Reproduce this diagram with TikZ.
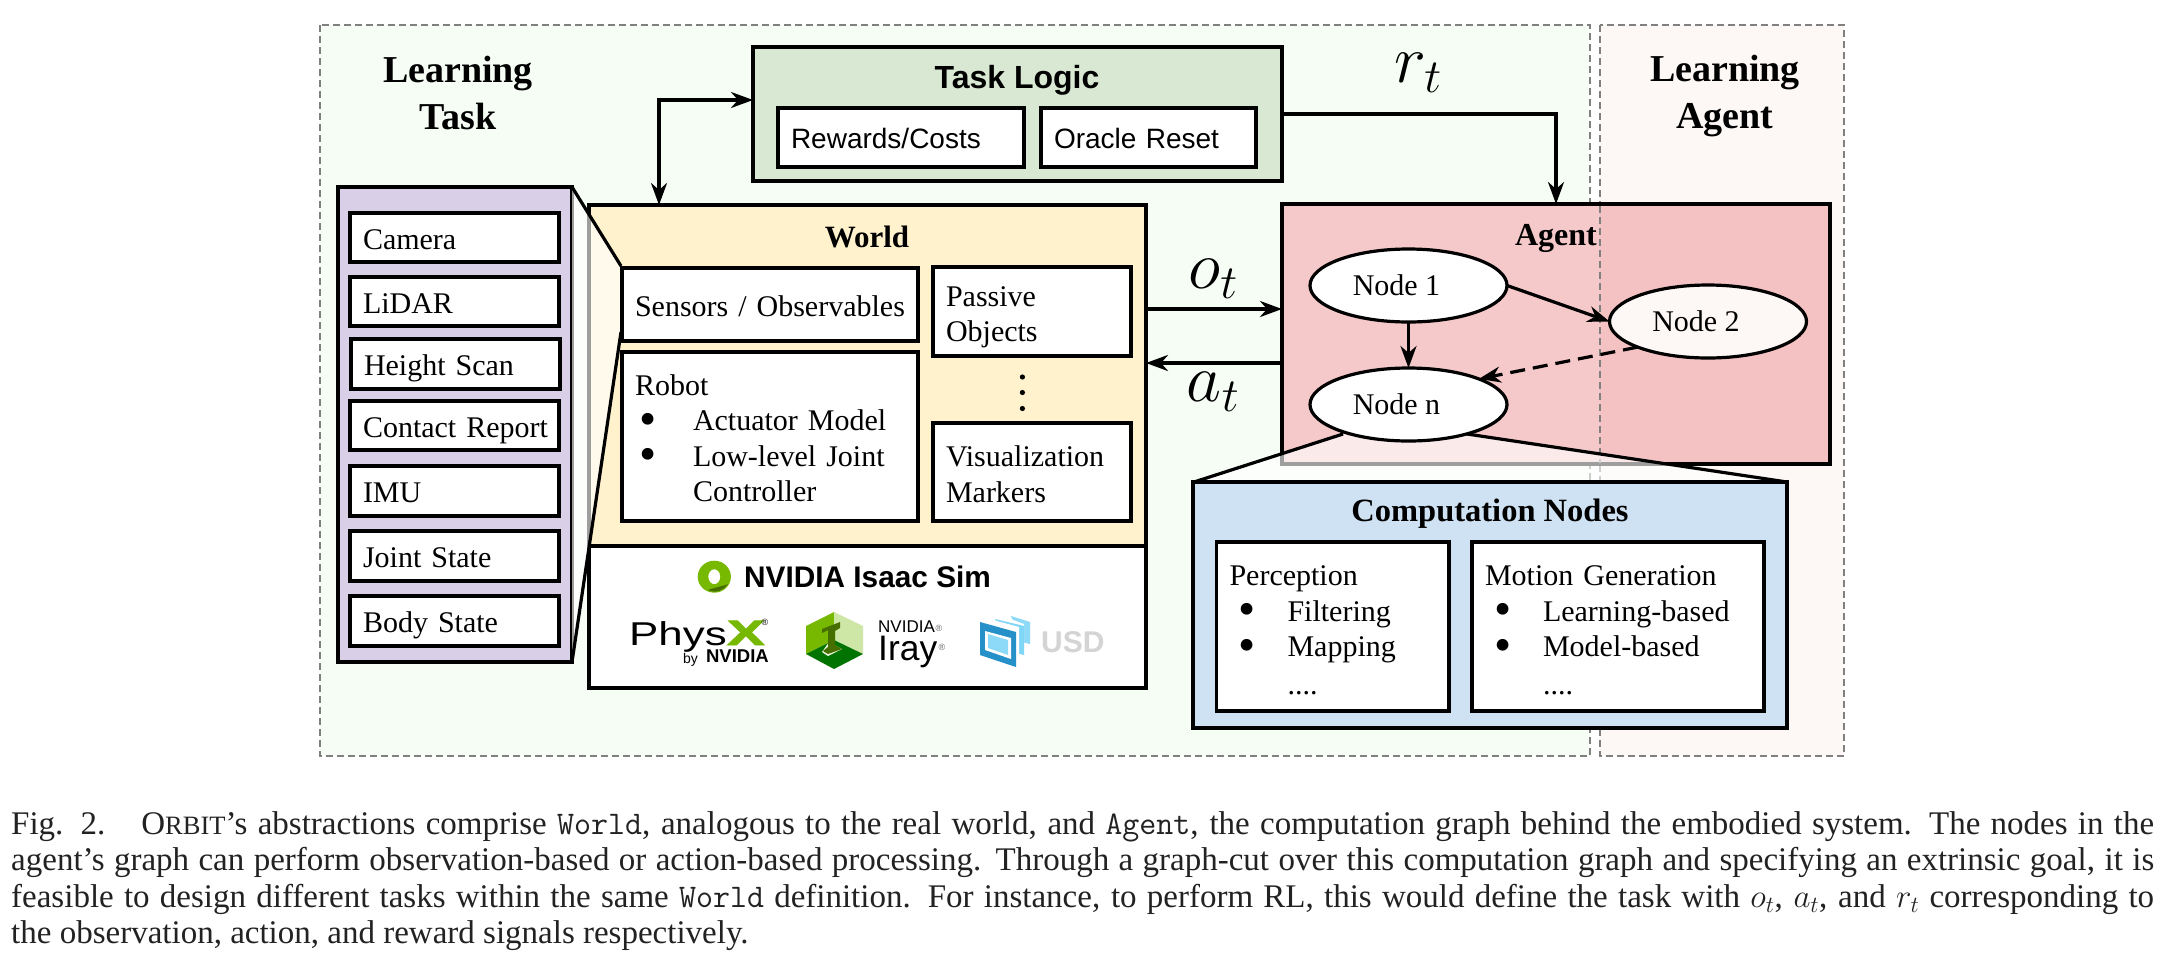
\documentclass[tikz,border=0pt]{standalone}
\usepackage{fix-cm}
\usepackage{fontspec}
\setmainfont{Liberation Serif}
\setsansfont{Liberation Sans}
\newfontfamily\xfont[FakeBold=2.5]{Liberation Sans Bold}
\usetikzlibrary{arrows.meta,shapes.geometric}
\definecolor{zoneg}{HTML}{F5FDF5}
\definecolor{zonep}{HTML}{FDF8F5}
\definecolor{taskc}{HTML}{D8E8D2}
\definecolor{purp}{HTML}{D9D0E8}
\definecolor{yell}{HTML}{FFF2CC}
\definecolor{pinkc}{HTML}{F5C9C9}
\definecolor{pinkd}{HTML}{F4C2C2}
\definecolor{bluec}{HTML}{CFE2F3}
\definecolor{nvg}{HTML}{76B900}
\definecolor{capc}{HTML}{222222}
\newcommand{\fsz}[2]{\fontsize{#1}{#2}\selectfont}
\newcommand{\bx}[7]{%
  \pgfmathsetmacro{\bxw}{#4-#2}\pgfmathsetmacro{\bxh}{#5-#3}\pgfmathsetmacro{\bxt}{#4-#2-26}%
  \node[#6,minimum width=\bxw pt,minimum height=\bxh pt,text width=\bxt pt] (#1) at ({(#2+#4)/2},{(#3+#5)/2}) {#7};}
\newcommand{\bul}[2]{\makebox[#2pt][l]{\hspace{#1pt}\smash{\raisebox{-4.8pt}{\fsz{49}{10}•}}}}
\newcommand{\sq}[1]{\makebox[2143pt][s]{#1}}
\newcommand{\up}[1]{\rule{0pt}{#1pt}}
\tikzset{
  x=1pt,y=-1pt,
  lw/.style={line width=3.2pt},
  boxed/.style={draw=black,lw,rectangle,inner xsep=13pt,inner ysep=0pt,outer sep=0pt,align=left,font={\fsz{30}{35.4}}},
  listbox/.style={boxed,fill=white},
  onebox/.style={listbox,text height=27pt,text depth=4pt},
  sansbox/.style={boxed,fill=white,font={\sffamily\fsz{28}{32}}},
  panel/.style={boxed},
  zone/.style={draw=black!50,line width=1.5pt,dash pattern=on 7pt off 4pt},
  arr/.style={lw,>={Stealth[length=22pt,width=16pt,inset=7pt]}},
  nodeell/.style={ellipse,draw=black,lw,fill=white,minimum width=197pt,minimum height=73pt,inner sep=0pt,outer sep=0pt,font={\fsz{30}{32}}},
  bold/.style={font={\bfseries\fsz{#1}{#1}},inner sep=0pt,align=center},
  boldtwo/.style={font={\bfseries\fsz{38}{47.5}},inner sep=0pt,align=center},
  mathl/.style={inner sep=0pt,font={\fsz{68}{68}}},
  reg/.style={inner sep=0pt,font={\sffamily\fsz{9}{9}}},
  funnel/.style={fill=white,fill opacity=.62,draw=none},
}
\begin{document}
\begin{tikzpicture}
\useasboundingbox (0,0) rectangle (2170,967);
\fill[white] (0,0) rectangle (2170,967);
% zones
\fill[zoneg] (320,25) rectangle (1590,756);
\fill[zonep] (1600,25) rectangle (1844,756);
\draw[zone] (320,25) rectangle (1590,756);
\draw[zone] (1600,25) rectangle (1844,756);
\node[boldtwo] (lt) at (458,93) {Learning\\Task};
\node[boldtwo] (la) at (1725,96) {Learning\\Agent};
% task logic
\bx{task}{753}{47}{1282}{181}{panel,fill=taskc}{}
\node[inner sep=0pt,font={\sffamily\bfseries\fsz{32}{32}}] (tasklbl) at (1017,80) {Task Logic};
\bx{rew}{778}{108}{1024}{167}{sansbox}{\up{22}Rewards/Costs}
\bx{ora}{1041}{108}{1256}{167}{sansbox}{\up{22}Oracle Reset}
\node[mathl] (rt) at (1418,73) {$r_t$};
% sensor panel
\bx{sens}{338}{187}{572}{662}{panel,fill=purp}{}
\bx{s1}{350}{213}{559}{262}{onebox}{Camera}
\bx{s2}{350}{277}{559}{326}{onebox}{LiDAR}
\bx{s3}{351}{339}{560}{389}{onebox}{Height Scan}
\bx{s4}{350}{401}{559}{450}{onebox}{\mbox{Contact Report}}
\bx{s5}{350}{466}{559}{516}{onebox}{IMU}
\bx{s6}{350}{531}{559}{581}{onebox}{Joint State}
\bx{s7}{350}{596}{559}{646}{onebox}{Body State}
% world
\bx{sim}{589}{546}{1146}{688}{panel,fill=white}{}
\bx{world}{589}{205}{1146}{546}{panel,fill=yell}{}
\coordinate (fa) at (621,266);
\coordinate (fb) at (621,332);
\fill[funnel] (sens.north east) -- (fa) -- (fb) -- (sens.south east) -- cycle;
\draw[lw] (sens.north east) -- (fa);
\draw[lw] (sens.south east) -- (fb);
\node[bold=31] (wlbl) at (867,237) {World};
\bx{obs}{622}{268}{918}{341}{onebox}{\mbox{Sensors / Observables}}
\bx{robot}{622}{352}{918}{521}{listbox}{\up{24}Robot\\\bul{4}{58}Actuator Model\\\bul{4}{58}Low-level Joint\\\hspace*{58pt}Controller}
\bx{pas}{933}{267}{1131}{356}{listbox}{\up{31}Passive\\Objects}
\bx{vis}{933}{423}{1131}{521}{listbox}{\up{25.6}Visualization\\Markers}
\fill (1022.4,377) circle (2.6);
\fill (1022.4,392.5) circle (2.6);
\fill (1022.4,408.5) circle (2.6);
% simulator logos
\node[inner sep=0pt,anchor=west,font={\sffamily\bfseries\fsz{29.8}{30}}] (isaac) at (744,577) {NVIDIA Isaac Sim};
\fill[nvg,even odd rule] (714.3,576.7) ellipse (16.6 and 16) (714.3,576.7) ellipse (6 and 7.5);
\fill[nvg!60!black] (708,590) .. controls (716,594) and (724,590) .. (728,584) .. controls (724,586) and (716,587) .. (708,590);
\node[inner sep=0pt,anchor=base west,font={\sffamily\fsz{33}{33}}] (phys) at (629,645) {\scalebox{1.33}[1]{Phys}};
\node[inner sep=0pt,anchor=base west,text=nvg,font={\fsz{35}{35}}] (physx) at (727,645) {\scalebox{1.6}[1]{\xfont X}};
\node[reg] (physr) at (765,622) {®};
\node[inner sep=0pt,anchor=base east,font={\sffamily\bfseries\fsz{18.5}{19}}] (bynv) at (769,662) {NVIDIA};
\node[inner sep=0pt,anchor=base east,font={\sffamily\fsz{14}{14}}] (by) at (698,663) {by};
\fill[nvg] (834,612) -- (806,626) -- (806,654) -- (834,640) -- cycle;
\fill[nvg!35!white] (834,612) -- (863,626) -- (863,654) -- (834,640) -- cycle;
\fill[green!45!black] (806,654) -- (834,640) -- (863,654) -- (834,669) -- cycle;
\fill[white!85!nvg] (829,642) -- (842,649) -- (828,656) -- (822,652) -- cycle;
\fill[nvg!60!black] (822,629) -- (840,622) -- (840,628) -- (835,631) -- (835,645) -- (842,649) -- (828,654) -- (823,651) -- (828,647) -- (828,630) -- (822,633) -- cycle;
\node[inner sep=0pt,anchor=base west,font={\sffamily\fsz{17}{17}}] (irn) at (878,632) {NVIDIA};
\node[reg,text=black!60] (irnr) at (939,628) {®};
\node[inner sep=0pt,anchor=base west,font={\sffamily\fsz{35.4}{35}}] (iray) at (878,660) {Iray};
\node[reg,text=black!60] (irayr) at (942,647) {®};
\fill[cyan!45!white] (1011,616) -- (1030,622) -- (1030,644) -- (1022,642) -- cycle;
\fill[white] (1006,618) -- (1012,619.5) -- (1024,624) -- (1024,655) -- (1018,653) -- cycle;
\fill[cyan!50!white] (995,619) -- (1024,626) -- (1024,655) -- (1016,653) -- cycle;
\fill[white] (993,620) -- (1019,627) -- (1019,660) -- (1012,660) -- cycle;
\fill[blue!35!cyan!75!black!85!white] (980,622) -- (1016,632) -- (1016,667) -- (980,655) -- cycle;
\fill[white] (985,631) -- (1011,638) -- (1011,659) -- (985,650) -- cycle;
\fill[cyan!45!white] (988,634) -- (1008,640) -- (1008,655) -- (988,648) -- cycle;
\node[inner sep=0pt,anchor=west,text=black!17,font={\sffamily\bfseries\fsz{30}{30}}] (usd) at (1041,642) {USD};
% agent
\bx{agent}{1282}{204}{1830}{464}{panel,fill=pinkc}{}
\fill[pinkd] (1600,205.6) rectangle (1828.4,462.4);
\draw[zone] (1600,206) -- (1600,463);
\node[bold=32] (algl) at (1556,238) {Agent};
\coordinate (cl) at (1343,434);
\coordinate (cr) at (1467,434);
\coordinate (ctl) at (1194,482);
\coordinate (ctr) at (1787,482);
\fill[funnel] (cl) -- (cr) -- (ctr) -- (ctl) -- cycle;
\draw[lw] (cl) -- (ctl);
\draw[lw] (cr) -- (ctr);
\node[nodeell] (n1) at (1408.5,285.5) {\hspace*{-24pt}Node 1};
\node[nodeell,fill=zonep] (n2) at (1708,321.5) {\hspace*{-24pt}Node 2};
\node[nodeell] (nn) at (1408.5,404.5) {\hspace*{-24pt}Node n};
\draw[arr,->] (n1.east) -- (n2.west);
\draw[arr,->] (n1.south) -- (nn.north);
\draw[arr,->,dash pattern=on 15pt off 8pt] (n2.200) -- (nn.20);
% computation nodes
\bx{comp}{1193}{482}{1787}{728}{panel,fill=bluec}{}
\node[bold=32.5] (clbl) at (1490,514) {Computation Nodes};
\bx{perc}{1216.5}{542}{1449}{711}{listbox,font={\fsz{30}{35.5}}}{\up{27}Perception\\\bul{9}{58}Filtering\\\bul{9}{58}Mapping\\[2pt]\hspace*{58pt}....}
\bx{moti}{1472}{542}{1764}{711}{listbox,font={\fsz{30}{35.5}}}{\up{27}Motion Generation\\\bul{9}{58}Learning-based\\\bul{9}{58}Model-based\\[2pt]\hspace*{58pt}....}
% flows
\coordinate (tl) at (753,100);
\coordinate (wt) at (659,205);
\draw[arr,<->] (tl) -| (wt);
\draw[arr,->] (task.east) -| (agent.north);
\coordinate (oy) at (0,309);
\coordinate (ay) at (0,363);
\draw[arr,->] (world.east |- oy) -- (agent.west |- oy);
\draw[arr,->] (agent.west |- ay) -- (world.east |- ay);
\node[mathl] (ot) at (1213,279) {$o_t$};
\node[mathl] (at) at (1213,392) {$a_t$};
% caption
\node[inner sep=0pt,anchor=north west,align=left,text=capc,font={\fsz{33}{36.3}}] (cap) at (11,811.5) {%
\sq{Fig. 2.\hspace{36pt}O{\fontsize{26.5}{36}\selectfont RBIT}’s abstractions comprise \texttt{World}, analogous to the real world, and \texttt{Agent}, the computation graph behind the embodied system. The nodes in the}\\
\sq{agent’s graph can perform observation-based or action-based processing. Through a graph-cut over this computation graph and specifying an extrinsic goal, it is}\\
\sq{feasible to design different tasks within the same \texttt{World} definition. For instance, to perform RL, this would define the task with $o_t$, $a_t$, and $r_t$ corresponding to}\\
the observation, action, and reward signals respectively.};
\end{tikzpicture}
\end{document}
